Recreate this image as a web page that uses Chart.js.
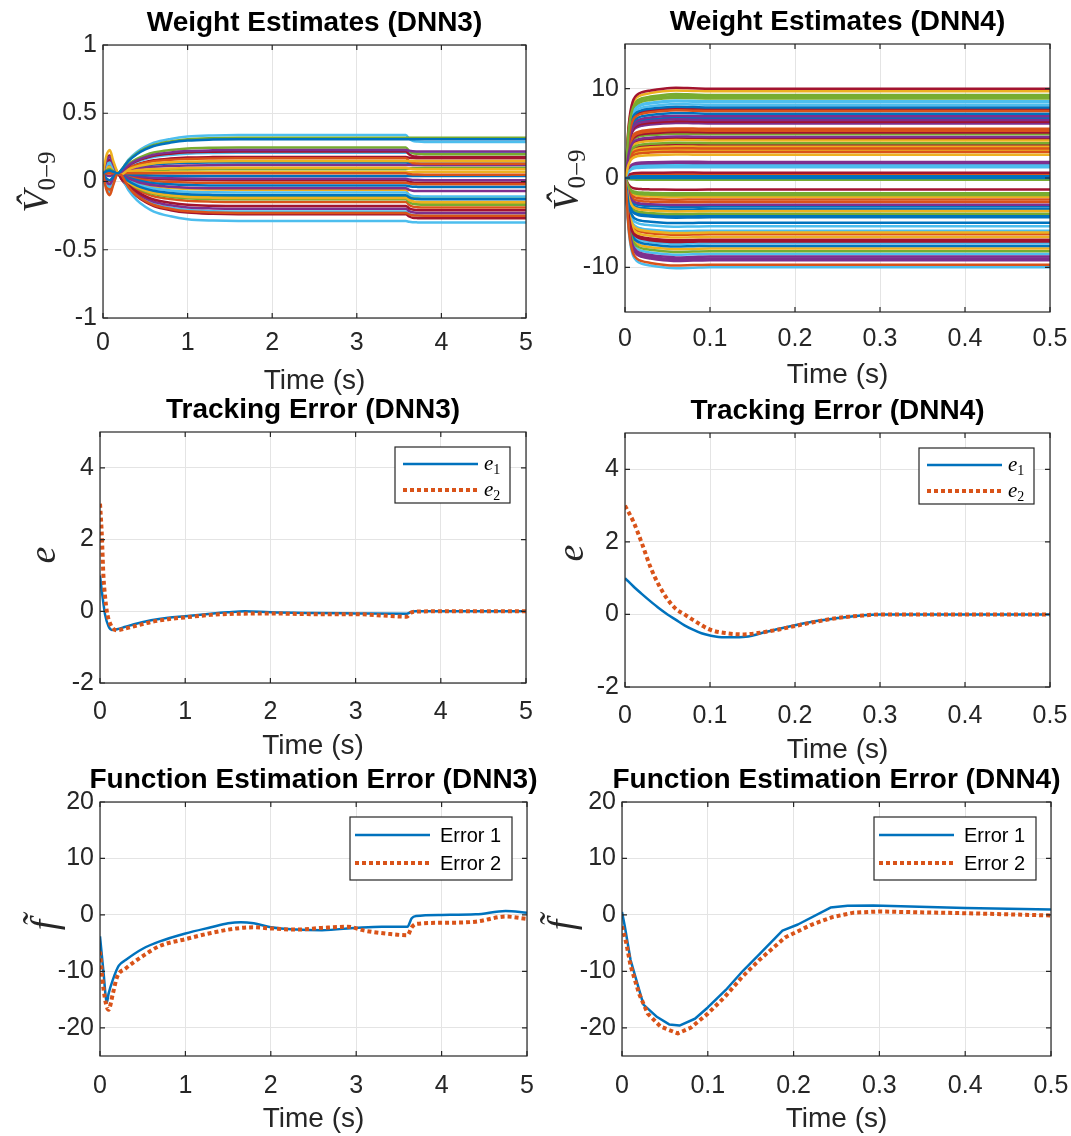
<!DOCTYPE html>
<html>
<head>
<meta charset="utf-8">
<script src="https://cdn.jsdelivr.net/npm/chart.js@4.4.0/dist/chart.umd.min.js"></script>
<style>
  html, body { margin: 0; padding: 0; background: #fff; overflow: hidden; }
  #wrap { position: relative; width: 1071px; height: 1136px; overflow: hidden; }
  #wrap canvas { position: absolute; left: 0; top: 0; }
</style>
</head>
<body>
<div id="wrap">
  <canvas id="cW3" width="1120" height="1136"></canvas>
  <canvas id="cW4" width="1120" height="1136"></canvas>
  <canvas id="cE3" width="1120" height="1136"></canvas>
  <canvas id="cE4" width="1120" height="1136"></canvas>
  <canvas id="cF3" width="1120" height="1136"></canvas>
  <canvas id="cF4" width="1120" height="1136"></canvas>
</div>
<script>
// ---- data ----
const matlabColors = ['#0072BD', '#D95319', '#EDB120', '#7E2F8E', '#77AC30', '#4DBEEE', '#A2142F'];

const xTicks3 = [0, 1, 2, 3, 4, 5];
const xTicks4 = [0, 0.1, 0.2, 0.3, 0.4, 0.5];
const yTicksW3 = [-1, -0.5, 0, 0.5, 1];
const yTicksW4 = [-10, 0, 10];
const yTicksE = [-2, 0, 2, 4];
const yTicksF = [-20, -10, 0, 10, 20];

// weight estimates DNN3: common time grid and transient shape
const tW3 = [0, 0.04, 0.08, 0.12, 0.18, 0.22, 0.26, 0.3, 0.4, 0.5, 0.6, 0.8, 1.0, 1.3, 1.6, 2.5, 3.58, 3.62, 3.66, 3.72, 3.8, 4.2, 5.0];
const riseW3 = [0, 0, 0, 0, 0, 0.12, 0.24, 0.36, 0.56, 0.7, 0.8, 0.9, 0.96, 0.99, 1, 1, 1, 1, 1, 1, 1, 1, 1];
const swingW3 = [0, 0.75, 1, 0.55, 0, -0.12, -0.08, -0.03, 0, 0, 0, 0, 0, 0, 0, 0, 0, 0, 0, 0, 0, 0, 0];
const stepW3 = [0, 0, 0, 0, 0, 0, 0, 0, 0, 0, 0, 0, 0, 0, 0, 0, 0, 0.55, 0.85, 0.95, 1, 1, 1];
const startW3 = 0.06;
// [value before t=3.6, value after t=3.6, early swing]
const settledW3 = [
  [0.31, 0.31, 0.02], [-0.23, -0.25, -0.16], [0.15, 0.15, 0.17], [0.23, 0.22, 0.12],
  [0.32, 0.32, 0.03], [0.34, 0.29, 0.08], [-0.18, -0.21, 0.10], [-0.10, -0.13, -0.05],
  [0.06, 0.05, 0.00], [-0.12, -0.15, 0.05], [-0.05, -0.07, -0.08], [0.25, 0.20, 0.04],
  [-0.29, -0.30, -0.10], [0.22, 0.18, 0.13], [0.04, 0.04, 0.02], [0.17, 0.13, -0.06],
  [0.07, 0.07, 0.02], [-0.20, -0.23, 0.05], [-0.13, -0.17, 0.02], [0.21, 0.21, 0.07],
  [0.18, 0.17, 0.03], [-0.03, -0.04, 0.01], [-0.15, -0.19, -0.12], [0.10, 0.09, 0.03],
  [0.12, 0.12, -0.02], [0.09, 0.10, 0.05], [-0.08, -0.11, -0.14], [-0.24, -0.27, 0.06],
  [0.14, 0.13, 0.02], [-0.01, -0.02, 0.03], [-0.06, -0.16, 0.00], [0.02, 0.01, 0.02],
  [-0.11, -0.12, 0.00], [-0.22, -0.25, 0.04], [0.01, -0.01, 0.09]
];

// weight estimates DNN4: common time grid, rise shape and settled values
const tW4 = [0, 0.002, 0.004, 0.006, 0.008, 0.01, 0.014, 0.02, 0.03, 0.045, 0.06, 0.08, 0.1, 0.2, 0.5];
const riseW4 = [0, 0.25, 0.55, 0.72, 0.82, 0.88, 0.93, 0.96, 0.98, 1.0, 1.01, 1.005, 1.0, 1.0, 1.0];
const settledW4 = [
  0.0, -9.7, 2.6, 4.6, 9.1, -10.0, 10.0, -5.0, 7.5, -3.7, 6.5, -1.7, 1.2, -7.1,
  7.9, 5.3, -6.1, -3.0, 3.9, 8.5, 0.6, -4.4, -2.4, 9.7, -8.8, -8.2, -5.4, 5.1,
  7.2, 3.3, -6.6, 1.8, -0.2, 8.2, -1.3, -7.6, 2.9, 4.2, 6.9, -4.0, 1.4, 6.3,
  -3.2, -6.3, 3.1, -9.0, 8.9, -5.9, 4.4, 0.2, 5.5, -7.9, 6.1, -1.9, 8.6, -6.9,
  6.7, -2.7, 3.5, -9.2, 4.9, -7.3, 3.7, -3.5, 0.4, -2.1, 1.6, 9.3, -8.5, 7.7, -4.2
];

// tracking error DNN3
const e1T3 = [0, 0.03, 0.06, 0.1, 0.14, 0.2, 0.3, 0.4, 0.6, 0.8, 1.0, 1.3, 1.5, 1.7, 2.0, 2.5, 3.0, 3.6, 3.65, 3.7, 4.0, 5.0];
const e1V3 = [1.0, 0.4, -0.1, -0.42, -0.52, -0.5, -0.43, -0.36, -0.25, -0.18, -0.14, -0.07, -0.03, 0.0, -0.03, -0.05, -0.06, -0.07, -0.02, 0.0, 0.0, 0.0];
const e2T3 = [0, 0.02, 0.04, 0.06, 0.08, 0.12, 0.2, 0.3, 0.4, 0.6, 0.8, 1.0, 1.3, 1.6, 2.0, 2.5, 3.0, 3.4, 3.6, 3.65, 3.7, 4.0, 5.0];
const e2V3 = [3.0, 2.2, 1.0, 0.4, 0.0, -0.35, -0.53, -0.48, -0.42, -0.3, -0.22, -0.17, -0.1, -0.07, -0.06, -0.08, -0.08, -0.13, -0.15, -0.04, -0.01, 0.0, 0.0];

// tracking error DNN4
const e1T4 = [0, 0.01, 0.02, 0.03, 0.04, 0.05, 0.06, 0.07, 0.08, 0.09, 0.1, 0.11, 0.13, 0.145, 0.16, 0.18, 0.2, 0.22, 0.25, 0.28, 0.3, 0.5];
const e1V4 = [1.0, 0.77, 0.56, 0.36, 0.17, 0.0, -0.15, -0.3, -0.42, -0.52, -0.58, -0.62, -0.63, -0.61, -0.52, -0.4, -0.3, -0.2, -0.1, -0.02, 0.0, 0.0];
const e2T4 = [0, 0.01, 0.02, 0.03, 0.04, 0.05, 0.06, 0.07, 0.08, 0.1, 0.12, 0.14, 0.16, 0.18, 0.2, 0.22, 0.25, 0.28, 0.3, 0.5];
const e2V4 = [3.0, 2.55, 1.95, 1.3, 0.8, 0.42, 0.15, 0.0, -0.15, -0.42, -0.52, -0.55, -0.5, -0.42, -0.32, -0.22, -0.1, -0.03, 0.0, 0.0];

// function estimation error DNN3
const f1T3 = [0, 0.04, 0.08, 0.1, 0.15, 0.22, 0.3, 0.5, 0.7, 1.0, 1.3, 1.5, 1.65, 1.8, 2.0, 2.3, 2.6, 3.0, 3.3, 3.6, 3.65, 3.7, 4.0, 4.4, 4.75, 5.0];
const f1V3 = [-3.8, -10.0, -15.5, -14.0, -11.5, -9.0, -8.0, -6.0, -4.7, -3.3, -2.2, -1.5, -1.3, -1.5, -2.2, -2.6, -2.7, -2.3, -2.1, -2.1, -0.6, -0.2, 0.0, 0.1, 0.7, 0.4];
const f2T3 = [0, 0.04, 0.1, 0.15, 0.2, 0.3, 0.5, 0.7, 1.0, 1.3, 1.6, 1.8, 2.0, 2.3, 2.6, 2.9, 3.1, 3.4, 3.6, 3.65, 3.7, 4.0, 4.4, 4.75, 5.0];
const f2V3 = [-6.5, -13.0, -16.8, -14.0, -11.0, -9.5, -7.3, -5.5, -4.3, -3.2, -2.4, -2.2, -2.4, -2.6, -2.3, -2.1, -2.8, -3.4, -3.6, -2.2, -1.6, -1.4, -1.2, -0.3, -0.7];

// function estimation error DNN4
const f1T4 = [0, 0.003, 0.01, 0.025, 0.041, 0.055, 0.067, 0.085, 0.1, 0.121, 0.141, 0.16, 0.187, 0.205, 0.243, 0.263, 0.293, 0.4, 0.5];
const f1V4 = [0.5, -1.8, -8.0, -15.9, -18.1, -19.4, -19.6, -18.4, -16.4, -13.3, -9.9, -7.0, -2.8, -1.7, 1.3, 1.6, 1.65, 1.2, 0.95];
const f2T4 = [0, 0.005, 0.01, 0.02, 0.03, 0.045, 0.065, 0.08, 0.1, 0.12, 0.14, 0.16, 0.19, 0.22, 0.245, 0.27, 0.3, 0.4, 0.5];
const f2V4 = [-2.0, -5.0, -9.0, -14.0, -17.5, -19.8, -21.0, -20.0, -17.5, -14.5, -11.0, -8.0, -4.0, -1.8, -0.4, 0.4, 0.6, 0.3, -0.1];

// ---- drawing ----
const SANS = '"Liberation Sans", Arial, Helvetica, sans-serif';
const SERIF = '"Liberation Serif", "Times New Roman", serif';
Chart.defaults.font.family = SANS;
Chart.defaults.color = '#262626';

const BLUE = '#0072BD', ORANGE = '#D95319';
const YAXIS_W = 90, XAXIS_H = 48;
const CW = 1120, CH = 1136; // canvases run a bit past the page on the right so edge labels never squeeze the plot

function pts(ts, vs) {
  return ts.map((t, i) => ({ x: t, y: vs[i] }));
}

function drawRich(ctx, parts, x, y, align) {
  let w = 0;
  parts.forEach(p => { ctx.font = p.f; w += ctx.measureText(p.t).width; });
  let cx = align === 'center' ? x - w / 2 : x;
  parts.forEach(p => {
    ctx.font = p.f;
    ctx.fillText(p.t, cx, y + (p.dy || 0));
    cx += ctx.measureText(p.t).width;
  });
}

const deco = {
  id: 'deco',
  afterDraw(chart, args, o) {
    const { ctx, chartArea: a } = chart;
    const xs = chart.scales.x, ys = chart.scales.y;
    ctx.save();
    ctx.setLineDash([]);
    // axes box with inward ticks on all sides
    ctx.strokeStyle = '#262626';
    ctx.lineWidth = 1.2;
    ctx.strokeRect(a.left, a.top, a.right - a.left, a.bottom - a.top);
    ctx.beginPath();
    xs.ticks.forEach(t => {
      const px = xs.getPixelForValue(t.value);
      ctx.moveTo(px, a.bottom); ctx.lineTo(px, a.bottom - 5);
      ctx.moveTo(px, a.top); ctx.lineTo(px, a.top + 5);
    });
    ys.ticks.forEach(t => {
      const py = ys.getPixelForValue(t.value);
      ctx.moveTo(a.left, py); ctx.lineTo(a.left + 5, py);
      ctx.moveTo(a.right, py); ctx.lineTo(a.right - 5, py);
    });
    ctx.stroke();

    const midX = (a.left + a.right) / 2;
    ctx.textBaseline = 'middle';
    // title
    ctx.fillStyle = '#000';
    ctx.font = 'bold 28px ' + SANS;
    ctx.textAlign = 'center';
    ctx.fillText(o.title, midX, a.top - 22);
    // x label
    ctx.fillStyle = '#262626';
    ctx.font = '28px ' + SANS;
    ctx.fillText('Time (s)', midX, a.bottom + 63);
    // y label (rotated)
    ctx.save();
    ctx.translate(o.yLabelPos[0], o.yLabelPos[1]);
    ctx.rotate(-Math.PI / 2);
    ctx.textAlign = 'left';
    ctx.textBaseline = 'alphabetic';
    drawRich(ctx, o.yLabel, 0, o.yLabelBase, 'center');
    ctx.restore();

    // legend with border
    const lg = o.legend;
    if (lg) {
      const x0 = a.right - lg.dx - lg.w, y0 = a.top + lg.dy;
      ctx.fillStyle = '#fff';
      ctx.fillRect(x0, y0, lg.w, lg.h);
      ctx.strokeStyle = '#262626';
      ctx.lineWidth = 1.2;
      ctx.strokeRect(x0, y0, lg.w, lg.h);
      chart.data.datasets.forEach((ds, i) => {
        const yy = y0 + lg.rows[i];
        ctx.strokeStyle = ds.borderColor;
        ctx.lineWidth = ds.borderWidth;
        ctx.setLineDash(ds.borderDash || []);
        ctx.beginPath();
        ctx.moveTo(x0 + lg.line[0], yy);
        ctx.lineTo(x0 + lg.line[1], yy);
        ctx.stroke();
        ctx.setLineDash([]);
        ctx.fillStyle = '#000';
        ctx.textAlign = 'left';
        ctx.textBaseline = 'alphabetic';
        drawRich(ctx, lg.labels[i], x0 + lg.textX, yy + lg.base, 'left');
      });
    }
    ctx.restore();
  }
};

function makePanel(id, box, datasets, xr, xt, yr, yt, deco_opts, tension) {
  const fmt = v => String(Math.round(v * 1000) / 1000);
  return new Chart(document.getElementById(id), {
    type: 'line',
    data: { datasets: datasets },
    plugins: [deco],
    options: {
      responsive: false,
      animation: false,
      events: [],
      layout: {
        autoPadding: false,
        padding: { left: box.L - YAXIS_W, top: box.T, right: CW - box.R, bottom: CH - box.B - XAXIS_H }
      },
      elements: {
        point: { radius: 0 },
        line: { tension: tension, borderCapStyle: 'butt', borderJoinStyle: 'round' }
      },
      plugins: {
        legend: { display: false },
        tooltip: { enabled: false },
        deco: deco_opts
      },
      scales: {
        x: {
          type: 'linear', min: xr[0], max: xr[1],
          afterFit: s => { s.height = XAXIS_H; },
          afterBuildTicks: s => { s.ticks = xt.map(v => ({ value: v })); },
          grid: { color: '#e4e4e4', lineWidth: 1, drawTicks: false },
          border: { display: false },
          ticks: { padding: box.xPad, maxRotation: 0, autoSkip: false, font: { size: 25 }, color: '#262626', callback: fmt }
        },
        y: {
          type: 'linear', min: yr[0], max: yr[1],
          afterFit: s => { s.width = YAXIS_W; },
          afterBuildTicks: s => { s.ticks = yt.map(v => ({ value: v })); },
          grid: { color: '#e4e4e4', lineWidth: 1, drawTicks: false },
          border: { display: false },
          ticks: { padding: 6, autoSkip: false, font: { size: 25 }, color: '#262626', callback: fmt }
        }
      }
    }
  });
}

// weight estimate datasets
const w3Sets = settledW3.map((row, k) => ({
  label: 'V' + k,
  data: tW3.map((t, i) => ({
    x: t,
    y: startW3 + (row[0] - startW3) * riseW3[i] + row[2] * swingW3[i] + (row[1] - row[0]) * stepW3[i]
  })),
  borderColor: matlabColors[k % 7],
  borderWidth: 2.5,
  cubicInterpolationMode: 'monotone',
  clip: 0
}));
const w4Sets = settledW4.map((v, k) => ({
  label: 'V' + k,
  data: tW4.map((t, i) => ({ x: t, y: v * riseW4[i] })),
  borderColor: matlabColors[k % 7],
  borderWidth: 2.5,
  cubicInterpolationMode: 'monotone',
  clip: 0
}));

function pair(t1, v1, t2, v2, name1, name2, mono) {
  const m = mono ? { cubicInterpolationMode: 'monotone' } : {};
  return [
    Object.assign({ label: name1, data: pts(t1, v1), borderColor: BLUE, borderWidth: 2.5, order: 2, clip: 0 }, m),
    Object.assign({ label: name2, data: pts(t2, v2), borderColor: ORANGE, borderWidth: 4, borderDash: [4, 3], order: 1, clip: 0 }, m)
  ];
}

const hatV = [
  { t: 'V\u0302', f: 'italic 36px ' + SERIF },
  { t: '0\u22129', f: '25px ' + SERIF, dy: 7 }
];
const eLab = [{ t: 'e', f: 'italic 38px ' + SERIF }];
const fLab = [{ t: 'f\u0303', f: 'italic 38px ' + SERIF }];

const legE = {
  w: 115, h: 56, dx: 16, dy: 15, rows: [17, 43], line: [8, 83], textX: 89, base: 6,
  labels: [
    [{ t: 'e', f: 'italic 21px ' + SERIF }, { t: '1', f: '14px ' + SERIF, dy: 4 }],
    [{ t: 'e', f: 'italic 21px ' + SERIF }, { t: '2', f: '14px ' + SERIF, dy: 4 }]
  ]
};
const legF = {
  w: 162, h: 63, dx: 15, dy: 15, rows: [18, 46], line: [5, 80], textX: 90, base: 7,
  labels: [
    [{ t: 'Error 1', f: '20px ' + SANS }],
    [{ t: 'Error 2', f: '20px ' + SANS }]
  ]
};

makePanel('cW3', { L: 103, R: 526, T: 45, B: 318, xPad: 10 }, w3Sets, [0, 5], xTicks3, [-1, 1], yTicksW3,
  { title: 'Weight Estimates (DNN3)', yLabel: hatV, yLabelPos: [36, 182], yLabelBase: 12 }, 0);
makePanel('cW4', { L: 625, R: 1050, T: 44, B: 312, xPad: 12 }, w4Sets, [0, 0.5], xTicks4, [-15, 15], yTicksW4,
  { title: 'Weight Estimates (DNN4)', yLabel: hatV, yLabelPos: [566, 180], yLabelBase: 12 }, 0);
makePanel('cE3', { L: 100, R: 526, T: 432, B: 683, xPad: 14 }, pair(e1T3, e1V3, e2T3, e2V3, 'e1', 'e2', true),
  [0, 5], xTicks3, [-2, 5], yTicksE,
  { title: 'Tracking Error (DNN3)', yLabel: eLab, yLabelPos: [47, 555], yLabelBase: 8, legend: legE }, 0);
makePanel('cE4', { L: 625, R: 1050, T: 433, B: 687, xPad: 14 }, pair(e1T4, e1V4, e2T4, e2V4, 'e1', 'e2', true),
  [0, 0.5], xTicks4, [-2, 5], yTicksE,
  { title: 'Tracking Error (DNN4)', yLabel: eLab, yLabelPos: [575, 553], yLabelBase: 8, legend: legE }, 0);
makePanel('cF3', { L: 100, R: 527, T: 802, B: 1056, xPad: 15 }, pair(f1T3, f1V3, f2T3, f2V3, 'Error 1', 'Error 2', true),
  [0, 5], xTicks3, [-25, 20], yTicksF,
  { title: 'Function Estimation Error (DNN3)', yLabel: fLab, yLabelPos: [47, 925], yLabelBase: 10, legend: legF }, 0);
makePanel('cF4', { L: 622, R: 1051, T: 802, B: 1056, xPad: 15 }, pair(f1T4, f1V4, f2T4, f2V4, 'Error 1', 'Error 2', false),
  [0, 0.5], xTicks4, [-25, 20], yTicksF,
  { title: 'Function Estimation Error (DNN4)', yLabel: fLab, yLabelPos: [564, 925], yLabelBase: 10, legend: legF }, 0);
</script>
</body>
</html>
